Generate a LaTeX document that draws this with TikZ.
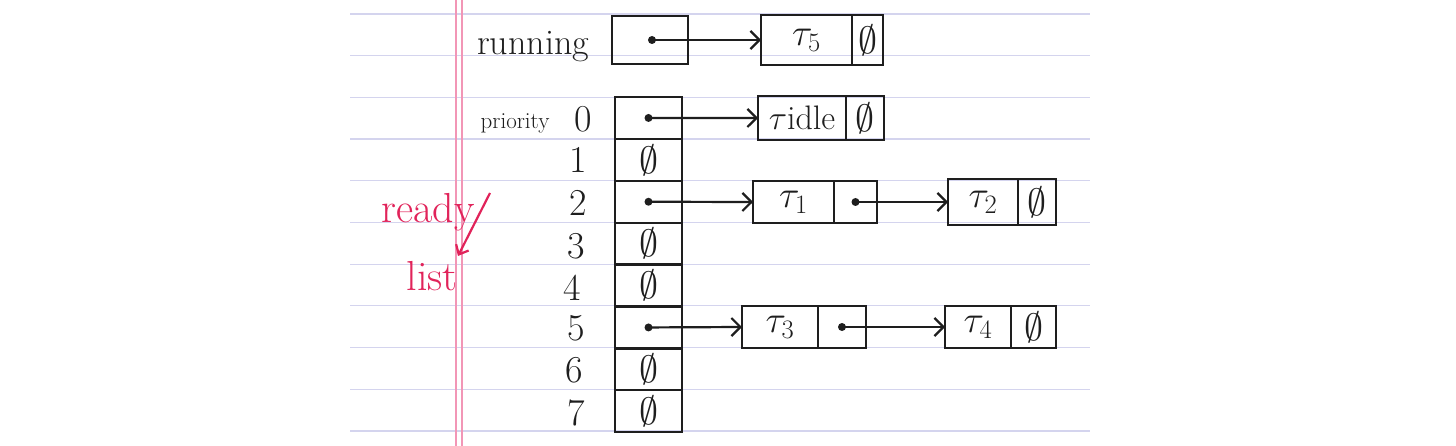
\RequirePackage{fix-cm}
\documentclass[tikz,border=0pt]{standalone}
\usetikzlibrary{arrows.meta}
\definecolor{inkc}{RGB}{30,30,30}
\definecolor{redink}{RGB}{225,35,90}
\definecolor{rulec}{RGB}{212,212,238}
\definecolor{marginc}{RGB}{242,150,182}
\begin{document}
\begin{tikzpicture}[x=1pt,y=-1pt,
  ink/.style={draw=inkc,line width=2.3pt},
  box/.style={ink,inner sep=0pt,outer sep=0pt,minimum height=44pt,text=inkc,font=\fontsize{38}{40}\selectfont},
  cell/.style={box,minimum width=67pt,minimum height=41.9pt},
  lbl/.style={text=inkc,font=\fontsize{36}{38}\selectfont,inner sep=0pt},
  numlbl/.style={text=inkc,font=\fontsize{38}{40}\selectfont,inner sep=0pt},
  redlbl/.style={text=redink,font=\fontsize{42}{44}\selectfont,inner sep=0pt},
  ptr/.style={draw=inkc,line width=2.2pt,-{Straight Barb[length=9pt,width=18pt,line width=2.2pt]}},
  redptr/.style={draw=redink,line width=2.2pt,-{Straight Barb[length=8pt,width=14pt,line width=2.2pt]}},
  dot/.style={fill=inkc,circle,inner sep=0pt,minimum size=8pt},
  ]
\useasboundingbox (0,0) rectangle (1456,446);
\fill[white] (0,0) rectangle (1456,446);
% paper rules
\foreach \k in {0,...,10} \draw[rulec,line width=1.2pt] (350,14+41.7*\k) -- (1090,14+41.7*\k);
\draw[marginc,line width=1.2pt] (456,0) -- (456,446);
\draw[marginc,line width=1.2pt] (462,0) -- (462,446);

% running pointer
\node[lbl,anchor=base] (runlbl) at (533,55) {running};
\node[box,minimum width=76pt,minimum height=48pt] (run) at (650,40) {};
\node[dot] (rd) at (652,40) {};
\node[box,minimum width=91pt,minimum height=50pt] (t5) at (806.5,40) {$\tau_5$};
\node[box,minimum width=31pt,minimum height=50pt,anchor=west] (t5n) at (t5.east) {$\emptyset$};
\draw[ptr] (rd.center) -- (t5.west);

% ready list array
\node[cell] (c0) at (648.5,117.95) {};
\node[cell] (c1) at (648.5,159.85) {$\emptyset$};
\node[cell] (c2) at (648.5,201.75) {};
\node[cell] (c3) at (648.5,243.65) {$\emptyset$};
\node[cell] (c4) at (648.5,285.55) {$\emptyset$};
\node[cell] (c5) at (648.5,327.45) {};
\node[cell] (c6) at (648.5,369.35) {$\emptyset$};
\node[cell] (c7) at (648.5,411.25) {$\emptyset$};

% row labels
\node[text=inkc,font=\fontsize{23}{25}\selectfont,inner sep=0pt,anchor=base] (prio) at (515,129) {priority};
\node[numlbl] (n0) at (583,119) {0};
\node[numlbl] (n1) at (578,160) {1};
\node[numlbl] (n2) at (578,203) {2};
\node[numlbl] (n3) at (576,246) {3};
\node[numlbl] (n4) at (572,288) {4};
\node[numlbl] (n5) at (576,328) {5};
\node[numlbl] (n6) at (574,370) {6};
\node[numlbl] (n7) at (576,413) {7};

% dots
\node[dot] (d0) at (c0.center) {};
\node[dot] (d2) at (c2.center) {};
\node[dot] (d5) at (c5.center) {};

% priority 0
\node[box,minimum width=88pt,minimum height=44pt,font=\fontsize{34}{36}\selectfont] (tidle) at (802,118) {$\tau$idle};
\node[box,minimum width=38pt,minimum height=44pt,anchor=west] (tidlen) at (tidle.east) {$\emptyset$};
\draw[ptr] (d0.center) -- (tidle.west);

% priority 2
\node[box,minimum width=81pt,minimum height=42pt] (t1) at (793.5,202) {$\tau_1$};
\node[box,minimum width=43pt,minimum height=42pt,anchor=west] (t1p) at (t1.east) {};
\node[dot] (d1) at (t1p.center) {};
\node[box,minimum width=70pt,minimum height=46pt] (t2) at (983,202) {$\tau_2$};
\node[box,minimum width=38pt,minimum height=46pt,anchor=west] (t2n) at (t2.east) {$\emptyset$};
\draw[ptr] (d2.center) -- (t1.west);
\draw[ptr] (d1.center) -- (t2.west);

% priority 5
\node[box,minimum width=76pt,minimum height=42pt] (t3) at (780,327) {$\tau_3$};
\node[box,minimum width=48pt,minimum height=42pt,anchor=west] (t3p) at (t3.east) {};
\node[dot] (d3) at (t3p.center) {};
\node[box,minimum width=66pt,minimum height=42pt] (t4) at (978,327) {$\tau_4$};
\node[box,minimum width=45pt,minimum height=42pt,anchor=west] (t4n) at (t4.east) {$\emptyset$};
\draw[ptr] (d5.center) -- (t3.west);
\draw[ptr] (d3.center) -- (t4.west);

% red annotation
\node[redlbl] (ready) at (428,212) {ready};
\node[redlbl] (list) at (432,276) {list};
\coordinate (ra) at (490,193);
\coordinate (rb) at (458,256);
\draw[redptr] (ra) -- (rb);
\end{tikzpicture}
\end{document}
